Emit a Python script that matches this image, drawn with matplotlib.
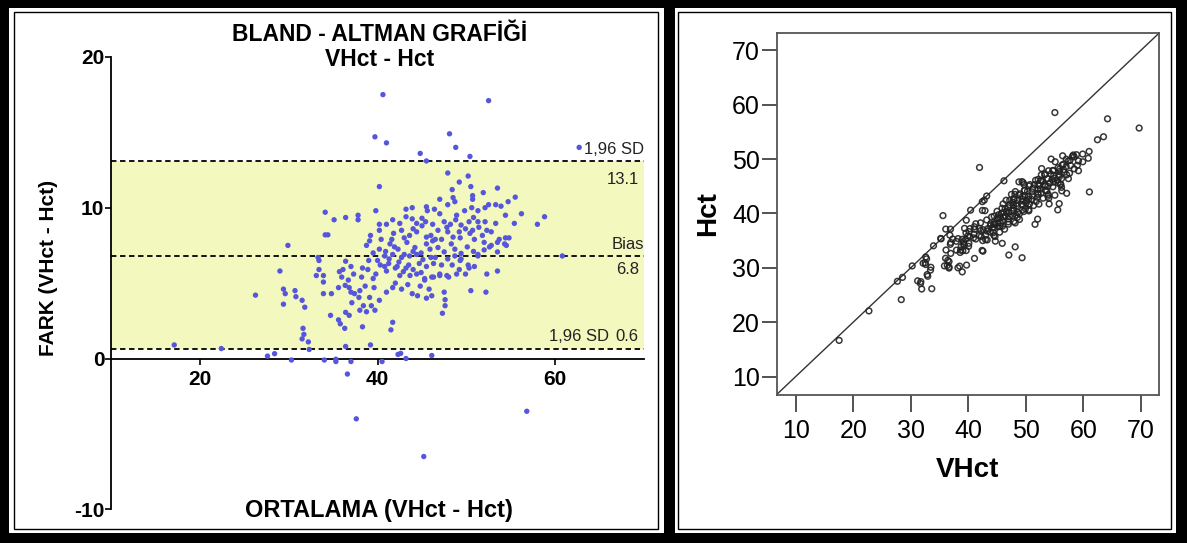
import matplotlib
matplotlib.use("Agg")
import matplotlib.pyplot as plt
from matplotlib.patches import Rectangle
import numpy as np

plt.rcParams['font.family'] = ['Liberation Sans', 'DejaVu Sans']
plt.rcParams['axes.unicode_minus'] = False

# Bland-Altman data: mean (ORTALAMA) and difference (FARK)
ortalama = [
    40.6, 52.5, 39.7, 41.0, 48.1, 48.8, 50.4, 44.8, 45.5, 62.7,
    47.9, 50.2, 49.2, 48.4, 50.5, 40.2, 51.9, 53.5,
    47.0, 48.5, 47.9, 48.7, 50.7, 50.7, 50.6, 52.5, 52.1, 53.3, 53.9, 54.7, 55.5, 56.2,
    43.9, 45.5, 45.6, 49.8, 51.3, 48.9, 43.2,
    34.1, 35.1, 36.4, 37.8, 37.8, 39.8, 40.2, 41.0, 42.5, 43.2, 43.9, 44.4, 45.0, 45.4,
    46.2, 47.5, 47.8, 48.2, 49.4, 50.3, 50.8, 51.3, 52.1, 53.3, 54.4, 55.4, 58.0, 58.8,
    39.2, 40.2, 39.1, 40.4, 41.6, 34.1, 34.4, 42.7, 43.6, 44.4, 45.5, 46.0, 46.5,
    47.9, 48.5, 49.2, 49.9, 50.4, 50.9, 51.8, 52.8, 53.5, 54.4,
    29.9, 38.75, 40.2, 41.4, 42.3, 43.3, 44.2, 44.9, 45.9, 46.8, 47.5, 48.3, 48.7, 49.4,
    50.1, 50.8, 51.3, 52.0, 52.6, 53.5, 54.5, 33.3, 33.4, 36.4, 40.8, 41.7, 42.7, 43.6,
    44.4, 45.1, 46.0, 46.5, 48.7, 49.4, 60.8,
    29.0, 33.4, 33.9, 33.9, 33.1, 35.7, 35.96, 36.7, 38.3, 38.9, 39.8, 40.8, 40.3, 41.25,
    42.2, 42.9, 43.65, 44.4, 45.3, 46.1, 47.0, 48.0, 49.2, 49.9, 50.9, 52.3, 53.5,
    26.25, 29.4, 29.6, 30.7, 30.8, 31.5, 33.9, 34.8, 35.6, 36.35, 37.0, 37.4, 38.6, 39.6,
    37.9, 39.1, 40.2, 41.0, 41.7, 42.7, 43.9, 44.5, 46.1, 47.5, 47.6, 50.5, 52.2, 38.4, 39.3,
    29.4, 31.8, 38.0, 38.75, 39.7, 47.6, 47.3, 34.7, 36.4, 36.8, 35.6, 35.8, 36.3, 38.3,
    41.7, 41.5, 31.6, 31.7, 31.5, 32.2, 32.3,
    17.1, 22.4, 27.6, 28.4, 30.3, 34.0, 35.3, 35.3, 37.0, 36.4, 39.2, 40.5, 42.3, 42.6,
    43.2, 46.1, 36.6, 37.6, 56.8, 45.2,
    # dense centre of the cloud
    49.3, 50.2, 50.3, 48.4, 48.9, 46.3, 47.0, 47.8, 45.3, 51.3, 52.0, 52.8, 53.7, 54.3,
    54.8, 49.3, 50.7, 51.4, 52.3, 45.8, 45.5,
    39.5, 40.0, 40.9, 41.3, 41.9, 42.4, 43.0, 43.5, 44.0, 44.7, 42.0, 43.2, 41.0, 42.5,
    44.0, 44.9, 45.5, 46.3, 47.2, 47.9, 45.5, 46.2, 47.2, 43.0, 41.8, 44.0, 45.0, 46.8,
    48.8, 47.0, 46.4, 41.7, 42.0, 43.4, 44.8, 39.0, 39.5, 38.2, 38.0, 37.3, 37.0, 36.1,
    36.8, 37.1,
]
fark = [
    17.5, 17.1, 14.7, 14.3, 14.9, 14.0, 13.4, 13.6, 13.1, 14.0,
    12.3, 12.1, 11.7, 11.2, 11.4, 11.4, 11.0, 11.3,
    10.56, 10.67, 10.2, 10.4, 10.8, 10.56, 10.0, 10.2, 10.0, 10.2, 10.1, 10.4, 10.7, 9.6,
    10.0, 10.06, 9.8, 9.8, 9.8, 9.5, 9.9,
    9.7, 9.2, 9.35, 9.5, 9.2, 9.8, 8.9, 8.9, 8.96, 9.4, 9.26, 8.96, 9.3, 9.07,
    8.9, 9.07, 8.7, 8.9, 8.85, 9.07, 9.35, 9.07, 9.07, 8.96, 9.5, 8.96, 8.9, 9.4,
    8.16, 8.5, 7.8, 7.9, 7.9, 8.2, 8.2, 8.5, 8.16, 8.4, 8.05, 8.16, 7.9,
    8.4, 8.05, 8.4, 8.6, 8.3, 7.9, 8.16, 8.4, 7.7, 8.0,
    7.5, 7.5, 7.25, 7.6, 7.25, 7.7, 7.36, 7.0, 7.25, 7.36, 7.07, 7.6, 7.25, 6.97,
    7.4, 7.1, 6.8, 7.7, 7.4, 7.07, 7.5, 6.7, 6.5, 6.45, 6.8, 6.9, 6.7, 6.8,
    6.9, 6.56, 6.7, 6.7, 6.8, 6.6, 6.8,
    5.8, 5.9, 5.5, 5.07, 5.5, 5.76, 5.4, 5.2, 6.0, 5.9, 5.6, 6.1, 6.2, 6.3,
    6.1, 5.76, 5.5, 5.6, 5.2, 5.4, 5.5, 5.4, 5.9, 5.6, 6.1, 5.6, 5.8,
    4.2, 4.6, 4.3, 4.5, 4.1, 3.86, 4.3, 4.3, 4.7, 4.85, 4.4, 4.3, 4.8, 4.7,
    4.05, 4.05, 3.86, 4.4, 4.7, 4.6, 4.3, 4.16, 4.16, 4.4, 3.9, 4.5, 4.4, 3.5, 3.5,
    3.6, 3.4, 3.2, 3.1, 3.2, 3.5, 3.0, 2.86, 3.06, 2.86, 2.56, 2.3, 2.0, 2.1,
    2.4, 1.9, 2.0, 1.6, 1.3, 1.1, 0.6,
    0.9, 0.66, 0.16, 0.32, -0.1, -0.1, -0.2, -0.05, -0.2, 0.8, 0.9, -0.2, 0.27, 0.34,
    0.0, 0.2, -1.03, -4.0, -3.5, -6.5,
    6.5, 6.2, 6.0, 6.2, 5.6, 5.4, 5.6, 5.5, 5.3, 6.9, 7.2, 7.5, 7.9, 7.6,
    8.0, 8.0, 8.5, 8.7, 8.5, 4.6, 4.0,
    7.0, 6.5, 7.1, 6.6, 7.4, 6.4, 6.9, 6.2, 7.1, 6.3, 6.0, 6.0, 5.8, 5.5,
    5.9, 5.7, 6.1, 6.3, 6.2, 6.6, 7.6, 7.8, 7.9, 8.0, 8.3, 8.6, 8.8, 8.5,
    9.2, 9.6, 9.9, 9.2, 5.0, 4.9, 4.8, 6.5, 5.3, 5.4, 4.5, 5.6, 6.1, 5.9,
    4.7, 3.7,
]
bias = 6.8
upper = 13.1
lower = 0.6

x_ticks_left = [20, 40, 60]
y_ticks_left = [20, 10, 0, -10]
ticks_right = [10, 20, 30, 40, 50, 60, 70]

ortalama = np.array(ortalama)
fark = np.array(fark)
vhct = ortalama + fark / 2
hct = ortalama - fark / 2

W, H = 1187, 543
fig = plt.figure(figsize=(W / 100, H / 100), dpi=100)
fig.patch.set_facecolor('white')


def box(x0, y0, x1, y1):
    # pixel box (top-left origin) -> figure fraction rect
    return [x0 / W, 1 - y1 / H, (x1 - x0) / W, (y1 - y0) / H]


# ---- left panel: Bland-Altman ----
ax = fig.add_axes(box(111.2, 56.9, 644, 509.3))
ax.set_xlim(10, 70)
ax.set_ylim(-10, 20)
ax.axhspan(lower, upper, color='#f3f8bf', zorder=0, lw=0)
for v in (upper, bias, lower):
    ax.axhline(v, color='black', ls=(0, (3, 2)), lw=1.3, zorder=2)
ax.scatter(ortalama, fark, s=15, color='#5656dc', edgecolors='none', zorder=3)

ax.spines['top'].set_visible(False)
ax.spines['right'].set_visible(False)
ax.spines['bottom'].set_position(('data', 0))
ax.spines['left'].set_linewidth(1.3)
ax.spines['bottom'].set_linewidth(1.3)
ax.set_xticks(x_ticks_left)
ax.set_yticks(y_ticks_left)
ax.tick_params(axis='both', length=4, width=1.2, labelsize=15)
ax.tick_params(axis='x', pad=4)
ax.tick_params(axis='y', pad=1)
for lab in ax.get_xticklabels() + ax.get_yticklabels():
    lab.set_fontweight('bold')

note = dict(fontsize=12, color='#222222', va='center')
ax.text(70, 13.86, '1,96 SD', ha='right', **note)
ax.text(69.4, 11.9, '13.1', ha='right', **note)
ax.text(70, 7.53, 'Bias', ha='right', **note)
ax.text(69.4, 5.93, '6.8', ha='right', **note)
ax.text(66.1, 1.49, '1,96 SD', ha='right', **note)
ax.text(69.4, 1.49, '0.6', ha='right', **note)

fig.text(380 / W, 1 - 35 / H, 'BLAND - ALTMAN GRAFİĞİ', ha='center', va='center',
         fontsize=16.5, fontweight='bold')
fig.text(380 / W, 1 - 59 / H, 'VHct - Hct', ha='center', va='center',
         fontsize=16.5, fontweight='bold')
fig.text(49 / W, 1 - 268 / H, 'FARK (VHct - Hct)', rotation=90, ha='center', va='center',
         fontsize=15, fontweight='bold')
fig.text(379 / W, 1 - 511 / H, 'ORTALAMA (VHct - Hct)', ha='center', va='center',
         fontsize=17, fontweight='bold')

# ---- right panel: VHct vs Hct ----
ax2 = fig.add_axes(box(776.7, 32.9, 1159.3, 394.5))
ax2.set_xlim(6.7, 73.2)
ax2.set_ylim(6.7, 73.2)
ax2.plot([6.7, 73.2], [6.7, 73.2], color='#333333', lw=1.0, zorder=2)
ax2.scatter(vhct, hct, s=17, facecolors='none', edgecolors='#222222',
            linewidths=1.1, alpha=0.9, zorder=3)
for sp in ax2.spines.values():
    sp.set_color('#555555')
    sp.set_linewidth(1.3)
ax2.set_xticks(ticks_right)
ax2.set_yticks(ticks_right)
ax2.tick_params(axis='x', length=12, width=1.3, color='#444444', labelsize=18, pad=6)
ax2.tick_params(axis='y', length=11, width=1.3, color='#444444', labelsize=18, pad=1)
ax2.set_xlabel('VHct', fontsize=20, fontweight='bold', labelpad=10)
ax2.set_ylabel('Hct', fontsize=20, fontweight='bold', labelpad=8)

# ---- frames ----
for r in [box(0, 0, W, 8), box(0, 533, W, H), box(0, 0, 9, H), box(1176, 0, W, H),
          box(664, 0, 675, H)]:
    fig.add_artist(Rectangle((r[0], r[1]), r[2], r[3], transform=fig.transFigure,
                             color='black', lw=0))
for r in [box(14, 12, 658, 529), box(678, 12, 1171, 529)]:
    fig.add_artist(Rectangle((r[0], r[1]), r[2], r[3], transform=fig.transFigure,
                             fill=False, edgecolor='black', lw=1.0))

fig.savefig('out.png', dpi=100)
